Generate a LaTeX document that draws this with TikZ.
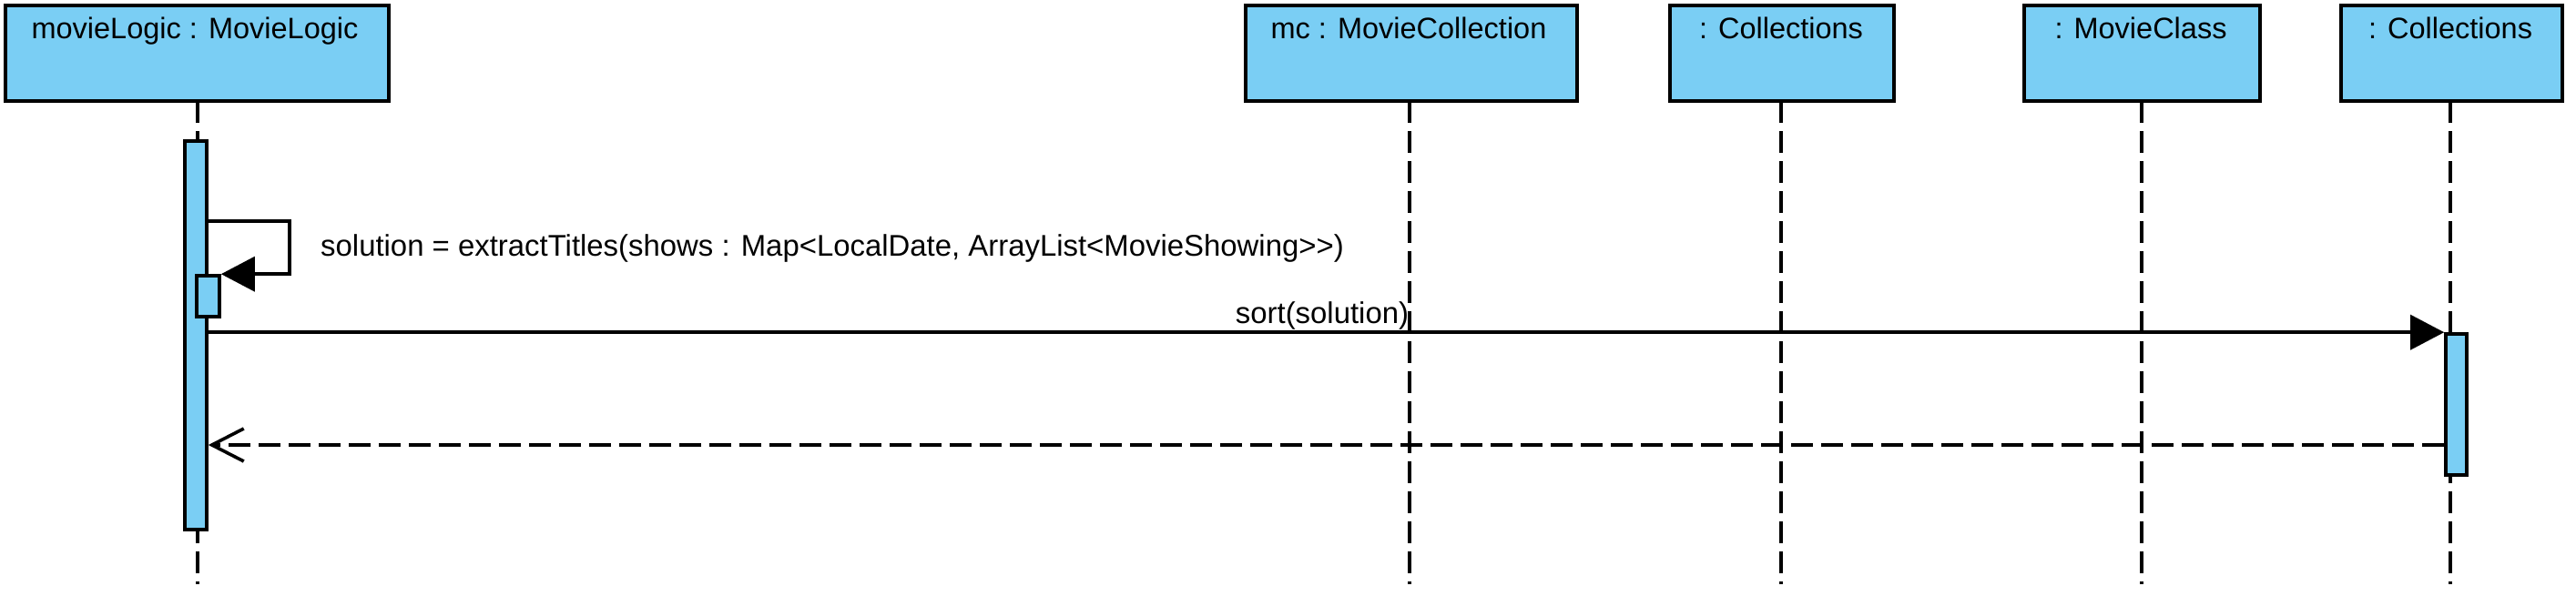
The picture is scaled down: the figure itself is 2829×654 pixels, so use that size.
\documentclass[tikz,border=0pt]{standalone}
\usepackage{fontspec}
\setmainfont{Liberation Sans}
\usetikzlibrary{arrows.meta,calc}
\definecolor{vpblue}{RGB}{122,206,244}
\begin{document}
\begin{tikzpicture}[x=1pt,y=-1pt,
  headbox/.style={draw, fill=vpblue, line width=4pt, minimum height=105pt, inner sep=0pt},
  title/.style={font=\fontsize{32.5}{36}\selectfont, anchor=base, inner sep=0pt},
  actbar/.style={draw, fill=vpblue, line width=3.6pt, inner sep=0pt},
  lifeline/.style={line width=3.6pt, dash pattern=on 24pt off 9pt},
  msg/.style={line width=3.6pt, -{Triangle[length=37pt,width=38pt]}},
  ret/.style={line width=3.6pt, dash pattern=on 24pt off 9pt, -{Straight Barb[length=35pt,width=36pt]}},
  msglabel/.style={font=\fontsize{32.9}{36}\selectfont, inner sep=0pt}
]
\useasboundingbox (0,0) rectangle (2829,654);

% lifeline heads
\node[headbox, minimum width=421pt] (B1) at (216.5,58.5) {};
\node[headbox, minimum width=364pt] (B2) at (1550,58.5) {};
\node[headbox, minimum width=246pt] (B3) at (1957,58.5) {};
\node[headbox, minimum width=259pt] (B4) at (2352.5,58.5) {};
\node[headbox, minimum width=243pt] (B5) at (2692.5,58.5) {};

\node[title] (T1) at (214,42) {movieLogic : MovieLogic};
\node[title] (T2) at (1547,42) {mc : MovieCollection};
\node[title] (T3) at (1956,42) {: Collections};
\node[title] (T4) at (2351,42) {: MovieClass};
\node[title] (T5) at (2691,42) {: Collections};

% lifelines
\coordinate (E) at (0,642);
\draw[lifeline] (217,111) coordinate (L1s) -- (L1s |- E);
\draw[lifeline] (1548,111) coordinate (L2s) -- (L2s |- E);
\draw[lifeline] (1956,111) coordinate (L3s) -- (L3s |- E);
\draw[lifeline] (2352,111) coordinate (L4s) -- (L4s |- E);
\draw[lifeline] (2691,111) coordinate (L5s) -- (L5s |- E);

% activation bars
\node[actbar, minimum width=24pt, minimum height=427pt] (A1) at (215,368.5) {};
\node[actbar, minimum width=25pt, minimum height=45pt] (A2) at (228.5,325.5) {};
\node[actbar, minimum width=23pt, minimum height=155pt] (A3) at (2697.5,444.5) {};

% self message
\coordinate (S1) at (0,243);
\coordinate (S2) at (318,0);
\draw[msg] (A1.east |- S1) -- (S2 |- S1) -- (S2 |- A2.north east) -- (A2.north east);
\node[msglabel, anchor=base west] (M1) at (352,281) {solution = extractTitles(shows : Map<LocalDate, ArrayList<MovieShowing>{}>)};

% sort message
\draw[msg] (A1.east |- A3.north west) -- (A3.north west);
\node[msglabel, anchor=base] (M2) at (1452,355) {sort(solution)};

% return message
\coordinate (R) at (0,489);
\draw[ret] (A3.west |- R) -- (A1.east |- R);

\end{tikzpicture}
\end{document}
